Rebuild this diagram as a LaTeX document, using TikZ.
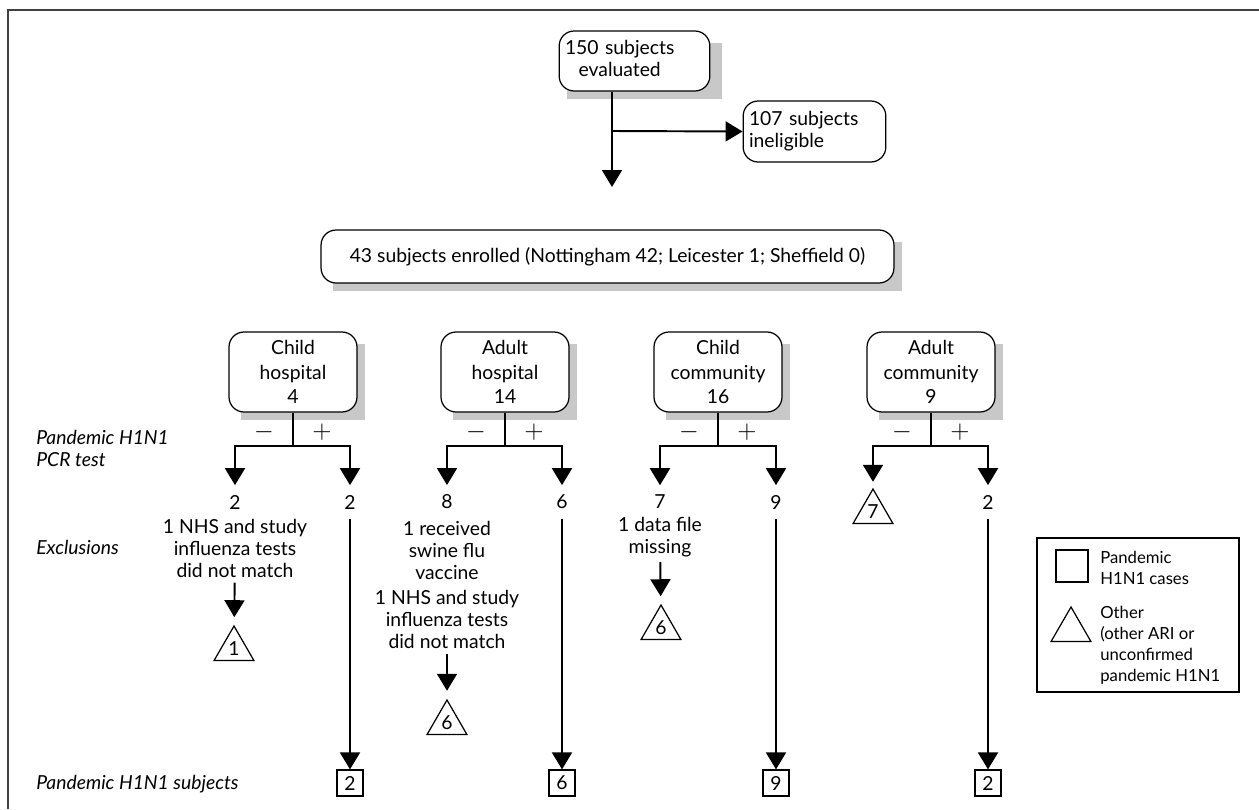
\documentclass[tikz,border=0pt]{standalone}
\usepackage{fontspec}
\setmainfont{Lato}
\usetikzlibrary{arrows.meta,positioning,shapes.geometric}

\definecolor{shadowgray}{RGB}{200,200,200}

\begin{document}
\begin{tikzpicture}[x=0.02cm, y=-0.02cm, font=\fontsize{11}{12.5}\selectfont,
		box/.style={draw, rounded corners=0.3cm, fill=white, line width=0.7pt, align=center},
		boxshadow/.style={fill=shadowgray},
		flow/.style={line width=1.1pt, -{Triangle[width=0.4cm, length=0.34cm]}},
		link/.style={line width=1.1pt},
		num/.style={inner sep=0.19cm},
		sign/.style={font=\fontsize{15}{15}\selectfont},
		note/.style={align=center, inner sep=0.1cm},
		other/.style={draw, regular polygon, regular polygon sides=3, minimum size=0.92cm, inner sep=0pt, line width=0.7pt},
		case/.style={draw, minimum size=0.52cm, inner sep=0pt, line width=0.7pt},
		side/.style={font=\fontsize{11}{12.5}\selectfont\itshape, anchor=west, align=left, inner sep=0pt},
		key/.style={font=\fontsize{9.5}{12}\selectfont, align=left, inner sep=0pt}]
	\useasboundingbox (0,0) rectangle (1259,809);
	\draw[line width=0.04cm, black!75] (8,809) -- (8,10) -- (1259,10);

	\fill[boxshadow] (567,43) rectangle (722,99);
	\fill[boxshadow] (333,242) rectangle (902,291);
	\foreach \cx in {293, 505, 718, 931}
		\fill[boxshadow] (\cx-52,344) rectangle (\cx+72,420);

	\node[box, text width=2.78cm, align=left, minimum height=1.2cm] (eval) at (634.5,61) {\begin{tabular}{@{}c@{}}150 subjects\\evaluated\end{tabular}};
	\node[box, text width=2.62cm, align=left, minimum height=1.22cm] (inel) at (814.5,131.5) {107 subjects\\ineligible};
	\coordinate (split) at (612,131);
	\coordinate (evend) at (612,187);
	\draw[flow] (eval.south -| split) -- (evend);
	\draw[flow] (split) -- (inel.west);

	\node[box, minimum width=11.46cm, minimum height=1.06cm] (enrol) at (607.5,256.5) {43 subjects enrolled (Nottingham 42; Leicester 1; Sheffield 0)};

	\foreach \g/\cx/\txt in {chosp/293/{Child\\hospital\\4}, ahosp/505/{Adult\\hospital\\14}, ccomm/718/{Child\\community\\16}, acomm/931/{Adult\\community\\9}} {
		\node[box, minimum width=2.56cm, minimum height=1.6cm, font=\fontsize{11}{14}\selectfont] (\g) at (\cx,372) {\txt};
		\coordinate (\g-s) at (\cx,446);
		\draw[link] (\g) -- (\g-s);
		\node[sign] (\g-neg) at (\cx-29,432) {$-$};
		\node[sign] (\g-pos) at (\cx+29,432) {$+$};
	}

	\node[side] (pcr) at (36,448) {Pandemic H1N1\\PCR test};
	\node[side] (excl) at (36,547) {Exclusions};
	\node[side] (subj) at (36,784) {Pandemic H1N1 subjects};

	\node[num] (chosp-n) at (235,502) {2};
	\node[num] (chosp-p) at (350,502) {2};
	\node[note] (chosp-x) at (235,548) {1 NHS and study\\influenza tests\\did not match};
	\node[other] (chosp-t) at (234,649) {1};
	\node[case] (chosp-c) at (350,783) {2};
	\draw[flow] (chosp-s) -| (chosp-n);
	\draw[flow, shorten >=0.16cm] (chosp-x) -- (chosp-t);

	\node[num] (ahosp-n) at (447,502) {8};
	\node[num] (ahosp-p) at (562,502) {6};
	\node[note] (ahosp-x) at (447,585) {1 received\\swine flu\\vaccine\\[2pt]1 NHS and study\\influenza tests\\did not match};
	\node[other] (ahosp-t) at (447,723) {6};
	\node[case] (ahosp-c) at (562,783) {6};
	\draw[flow] (ahosp-s) -| (ahosp-n);
	\draw[flow, shorten >=0.16cm] (ahosp-x) -- (ahosp-t);

	\node[num] (ccomm-n) at (660,502) {7};
	\node[num] (ccomm-p) at (776,502) {9};
	\node[note] (ccomm-x) at (660,537) {1 data file\\missing};
	\node[other] (ccomm-t) at (661,628) {6};
	\node[case] (ccomm-c) at (776,783) {9};
	\draw[flow] (ccomm-s) -| (ccomm-n);
	\draw[flow, shorten >=0.16cm] (ccomm-x) -- (ccomm-t);

	\node[other] (acomm-t) at (873,512) {7};
	\node[num] (acomm-p) at (988,502) {2};
	\node[case] (acomm-c) at (988,783) {2};
	\draw[flow, shorten >=0.12cm] (acomm-s) -| (acomm-t);

	\foreach \g in {chosp, ahosp, ccomm, acomm} {
		\draw[flow] (\g-s) -| (\g-p);
		\draw[flow] (\g-p) -- (\g-c);
	}

	\draw[line width=0.6pt] (1037,538) rectangle (1239,692);
	\node[case, minimum size=0.64cm] (lcase) at (1072,566) {};
	\node[key, anchor=west] (lcaset) at (1100,567.5) {Pandemic\\H1N1 cases};
	\node[other] (lother) at (1071,630) {};
	\node[key, anchor=north west] (lothert) at (1100,606) {Other\\(other ARI or\\unconfirmed\\pandemic H1N1};
\end{tikzpicture}
\end{document}
